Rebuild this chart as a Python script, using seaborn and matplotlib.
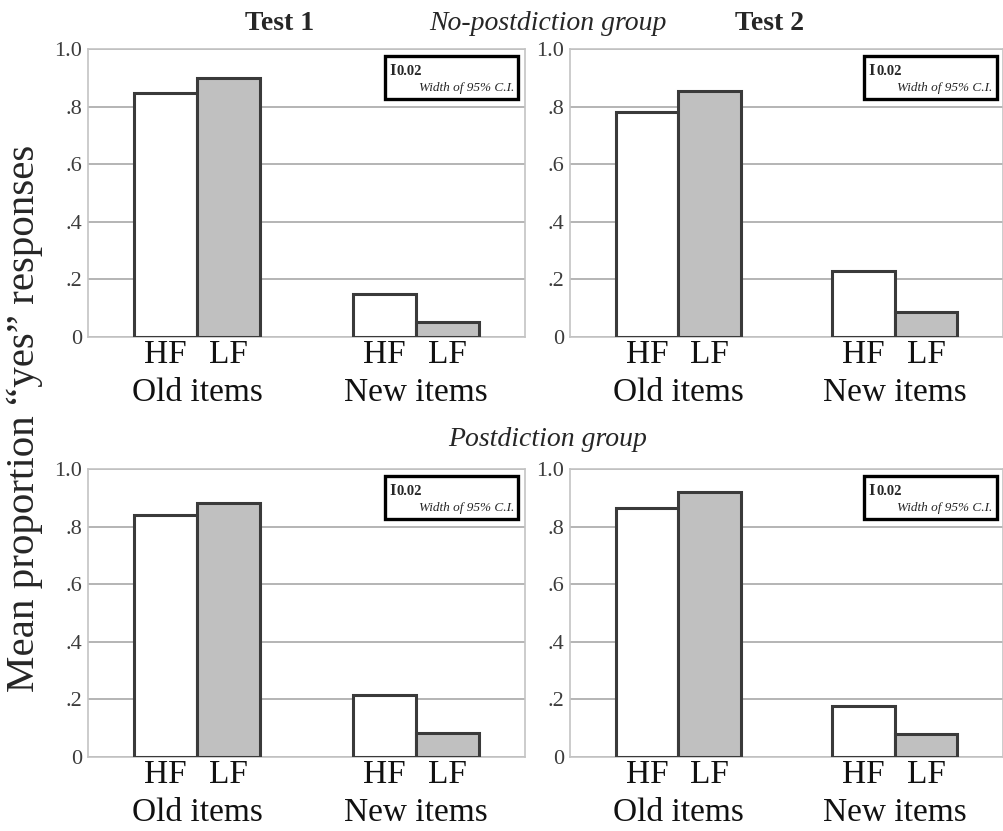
import matplotlib
matplotlib.use("Agg")
import matplotlib.pyplot as plt
from matplotlib.patches import Rectangle
import seaborn as sns
import pandas as pd

# ---- data ----
item_types = ["Old items", "New items"]
frequencies = ["HF", "LF"]
panel_titles = ["Test 1", "Test 2"]
group_titles = ["No-postdiction group", "Postdiction group"]
# values per panel: [Old HF, Old LF, New HF, New LF]
nopost_test1 = [0.847, 0.899, 0.149, 0.052]
nopost_test2 = [0.780, 0.855, 0.229, 0.087]
post_test1 = [0.840, 0.882, 0.215, 0.083]
post_test2 = [0.865, 0.920, 0.177, 0.080]
ytick_vals = [0, 0.2, 0.4, 0.6, 0.8, 1.0]
ytick_labels = ["0", ".2", ".4", ".6", ".8", "1.0"]
ci_width_label = "0.02"
ci_text = "Width of 95% C.I."
ylabel_text = "Mean proportion \u201cyes\u201d responses"

sns.set_theme(style="white")
plt.rcParams["font.family"] = ["Liberation Serif", "DejaVu Serif"]

fig = plt.figure(figsize=(10.04, 8.31), dpi=100)
fig.patch.set_facecolor("white")

W, H = 1004, 831
def ax_rect(x0, x1, y0, y1):
    return [x0 / W, 1 - y1 / H, (x1 - x0) / W, (y1 - y0) / H]

rects = [
    ax_rect(88, 525, 49, 337), ax_rect(570, 1003, 49, 337),
    ax_rect(88, 525, 469, 757), ax_rect(570, 1003, 469, 757),
]
panels = [nopost_test1, nopost_test2, post_test1, post_test2]

palette = {"HF": "#ffffff", "LF": "#c0c0c0"}

for rect, vals in zip(rects, panels):
    ax = fig.add_axes(rect)
    df = pd.DataFrame({
        "item": [item_types[0], item_types[0], item_types[1], item_types[1]],
        "freq": [frequencies[0], frequencies[1], frequencies[0], frequencies[1]],
        "value": vals,
    })
    sns.barplot(data=df, x="item", y="value", hue="freq", order=item_types,
                hue_order=frequencies, palette=palette, saturation=1,
                width=0.578, edgecolor="#3a3a3a", linewidth=2.2,
                errorbar=None, legend=False, ax=ax, zorder=3)
    ax.set_xlim(-0.5, 1.5)
    ax.set_ylim(0, 1.0)
    ax.set_yticks(ytick_vals)
    ax.set_yticklabels(ytick_labels)
    ax.yaxis.grid(True, color="#a0a0a0", linewidth=1.1, zorder=0)
    ax.set_axisbelow(True)
    for s in ax.spines.values():
        s.set_color("#c4c4c4")
        s.set_linewidth(1.2)
    ax.tick_params(axis="y", length=0, pad=4, labelsize=16, labelcolor="#3c3c3c")
    # bar centres from the drawn patches
    centers = sorted(p.get_x() + p.get_width() / 2 for p in ax.patches)
    ax.set_xticks(centers, minor=True)
    ax.set_xticklabels([frequencies[0], frequencies[1]] * 2, minor=True)
    ax.set_xticks([0, 1])
    ax.set_xticklabels(item_types)
    ax.tick_params(axis="x", which="minor", length=0, pad=2, labelsize=24, labelcolor="#111111")
    ax.tick_params(axis="x", which="major", length=0, pad=29, labelsize=24, labelcolor="#111111")
    ax.set_xlabel("")
    ax.set_ylabel("")
    # CI legend box
    ax.add_patch(Rectangle((0.68, 0.825), 0.305, 0.15, transform=ax.transAxes,
                           facecolor="white", edgecolor="black", linewidth=2.4,
                           zorder=5, clip_on=False))
    ax.text(0.69, 0.925, "I", transform=ax.transAxes, fontsize=12, fontweight="bold",
            va="center", ha="left", zorder=6)
    ax.text(0.707, 0.922, ci_width_label, transform=ax.transAxes, fontsize=10.5,
            fontweight="bold", va="center", ha="left", zorder=6)
    ax.text(0.975, 0.865, ci_text, transform=ax.transAxes, fontsize=9.5,
            fontstyle="italic", va="center", ha="right", zorder=6)

fig.text(280 / W, 1 - 23 / H, panel_titles[0], fontsize=20, fontweight="bold", ha="center", va="center")
fig.text(770 / W, 1 - 23 / H, panel_titles[1], fontsize=20, fontweight="bold", ha="center", va="center")
fig.text(548 / W, 1 - 23 / H, group_titles[0], fontsize=20, fontstyle="italic", ha="center", va="center")
fig.text(548 / W, 1 - 440 / H, group_titles[1], fontsize=20, fontstyle="italic", ha="center", va="center")
fig.text(25 / W, 1 - 418 / H, ylabel_text, fontsize=29.5, rotation=90, ha="center", va="center")

fig.savefig("out.png", dpi=100, facecolor="white")
